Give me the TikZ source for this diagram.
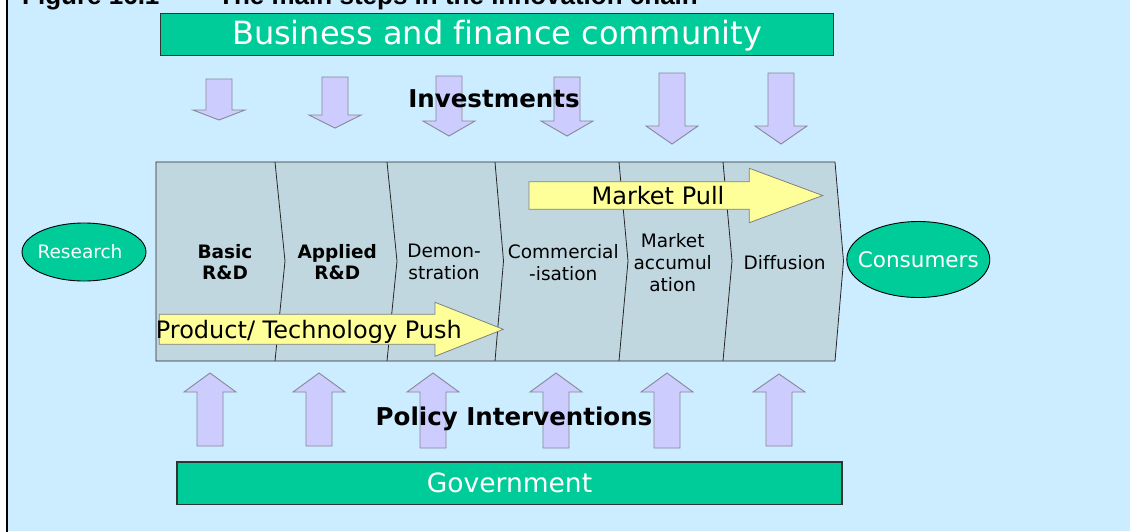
\documentclass[tikz,border=0pt]{standalone}
\usepackage{fontspec}
\setmainfont{DejaVu Sans}[Ligatures=NoCommon]
\newfontfamily\arialfont{Liberation Sans}
\usetikzlibrary{shapes.geometric}
\definecolor{bgblue}{RGB}{204,236,255}
\definecolor{chevfill}{RGB}{193,215,224}
\definecolor{mygreen}{RGB}{0,204,153}
\definecolor{lav}{RGB}{204,204,255}
\definecolor{yel}{RGB}{255,255,153}
\definecolor{arrowedge}{RGB}{136,136,150}
\tikzset{
  greenbox/.style={draw=black!80, line width=1.2pt, fill=mygreen, text=white, inner sep=0},
  chevline/.style={draw=black!85, line width=0.8pt},
  lavarrow/.style={fill=lav, draw=arrowedge, line width=0.9pt},
  yelarrow/.style={fill=yel, draw=gray, line width=0.8pt},
  chevtext/.style={align=center, font=\fontsize{18.5}{22}\selectfont, inner sep=0},
  chevbold/.style={chevtext, font=\bfseries\fontsize{18.5}{21}\selectfont},
  oval/.style={ellipse, draw=black, line width=0.9pt, fill=mygreen, text=white, inner sep=0},
  biglabel/.style={font=\bfseries\fontsize{24.5}{28}\selectfont, inner sep=0, anchor=base},
  titletext/.style={font=\arialfont\bfseries\fontsize{26}{30}\selectfont, inner sep=0, anchor=base west},
  arrowtext/.style={font=\fontsize{24}{28}\selectfont, inner sep=0, anchor=base}
}
\begin{document}
\begin{tikzpicture}[x=1pt,y=-1pt]
\useasboundingbox (0,0) rectangle (1130,531);
\fill[white] (0,0) rectangle (1130,531);
\fill[bgblue] (7,0) rectangle (1130,531);
\draw[line width=1.5pt] (7,-2) -- (7,533);

% title (cut off at the top, as in the reference)
\node[titletext] (fig) at (22,4) {Figure 16.1};
\node[titletext] (title) at (218,4) {The main steps in the innovation chain};

% business box
\node[greenbox, minimum width=673pt, minimum height=42.4pt, text depth=5pt,
      font=\fontsize{32}{36}\selectfont] (biz) at (497,34.5) {Business and finance community};

% investment arrows
\foreach \cx/\t/\hb/\tip in {219/79/110/120, 335/77/115/128, 449/76/121/136,
                             567/77/121/136, 672/73/126/144, 781/73/126/144}
  \draw[lavarrow] (\cx-13,\t) -- (\cx+13,\t) -- (\cx+13,\hb) -- (\cx+26,\hb)
     -- (\cx,\tip) -- (\cx-26,\hb) -- (\cx-13,\hb) -- cycle;
\node[biglabel] (inv) at (494,107.7) {Investments};

% chevron band
\fill[chevfill] (156,162) -- (835,162) -- (843.5,261) -- (835,361) -- (156,361) -- cycle;
\draw[chevline] (156,162) -- (835,162) -- (843.5,261) -- (835,361) -- (156,361) -- cycle;
\foreach \bt/\bp in {275/285, 387/397, 495/503.5, 619/628, 723/732}
  \draw[chevline] (\bt,162) -- (\bp,261) -- (\bt,361);

\node[chevbold] (basic) at (225,262.2) {Basic\\R\&D};
\node[chevbold] (applied) at (337.3,262.2) {Applied\\R\&D};
\node[chevtext] (demo) at (444,262.2) {Demon-\\stration};
\node[chevtext] (comm) at (563.3,262.2) {Commercial\\-isation};
\node[chevtext] (accum) at (672.7,262.2) {Market\\accumul\\ation};
\node[chevtext] (diff) at (784.7,262.7) {Diffusion};

% market pull arrow
\draw[yelarrow] (529,181.7) -- (749.3,181.7) -- (749.3,168.3) -- (822.7,195.5)
   -- (749.3,222.7) -- (749.3,209.3) -- (529,209.3) -- cycle;
\node[arrowtext] (pull) at (658,204.3) {Market Pull};

% technology push arrow
\draw[yelarrow] (159.3,314.3) -- (435,314.3) -- (435,302.3) -- (503.3,329.3)
   -- (435,356.3) -- (435,344.3) -- (159.3,344.3) -- cycle;
\node[arrowtext, anchor=base west] (push) at (155.7,338.5) {Product/ Technology Push};

% ovals
\node[oval, minimum width=124pt, minimum height=58pt,
      font=\fontsize{18.5}{22}\selectfont] (research) at (84,252) {\makebox[0pt]{Research\hspace{8pt}}};
\node[oval, minimum width=143pt, minimum height=76pt,
      font=\fontsize{21.5}{25}\selectfont] (consumers) at (918.3,259.5) {\makebox[0pt]{Consumers}};

% policy arrows
\foreach \cx/\tip/\hb/\bot in {210/373/392/446, 319/373/392/446, 433/373/392/448,
                               556/373/392/448, 667/373/392/448, 779/374/392/446}
  \draw[lavarrow] (\cx-13,\bot) -- (\cx-13,\hb) -- (\cx-26,\hb) -- (\cx,\tip)
     -- (\cx+26,\hb) -- (\cx+13,\hb) -- (\cx+13,\bot) -- cycle;
\node[biglabel] (policy) at (514,425) {Policy Interventions};

% government box
\node[greenbox, minimum width=665pt, minimum height=42.5pt,
      font=\fontsize{26.5}{30}\selectfont] (gov) at (509.5,483.25) {Government};
\end{tikzpicture}
\end{document}
